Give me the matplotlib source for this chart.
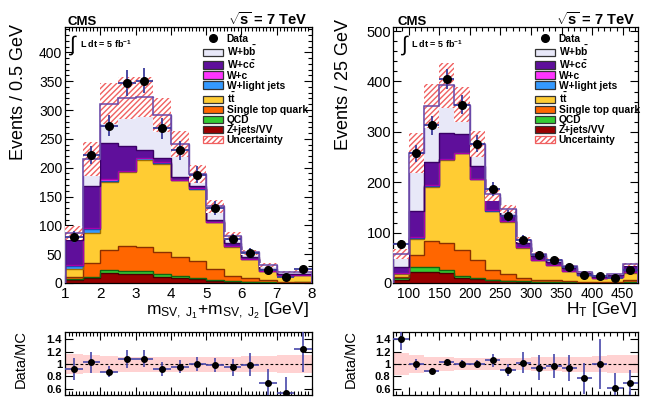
import numpy as np
import matplotlib
matplotlib.use('Agg')
import matplotlib.pyplot as plt
from matplotlib.ticker import MultipleLocator, FixedLocator, NullFormatter
from matplotlib.patches import Patch
from matplotlib.lines import Line2D

plt.rcParams['font.family'] = ['Liberation Sans', 'DejaVu Sans']
plt.rcParams['mathtext.fontset'] = 'custom'
plt.rcParams['mathtext.rm'] = 'Liberation Sans'
plt.rcParams['mathtext.it'] = 'Liberation Sans:italic'
plt.rcParams['mathtext.bf'] = 'Liberation Sans:bold'
plt.rcParams['mathtext.default'] = 'regular'
plt.rcParams['hatch.linewidth'] = 1.0

# ---------------- data: left panel (m_SV,J1 + m_SV,J2) ----------------
mass_edges = np.arange(1.0, 8.01, 0.5)
mass_zvv   = [5, 9, 17, 15, 15, 11, 9, 7, 4, 2, 1.5, 0.5, 0.3, 0.5]
mass_qcd   = [2, 2, 5, 6, 6, 5, 3, 2, 2, 1, 0.5, 0.5, 0.2, 0.5]
mass_stop  = [3, 24, 36, 43, 41, 37, 33, 30, 19, 9, 6, 4, 1.5, 1.5]
mass_tt    = [14, 52, 118, 129, 151, 154, 133, 124, 80, 51, 33, 16, 11, 11.5]
mass_wl    = [6, 7, 1, 1, 3, 1, 0.5, 0.5, 1, 0.5, 0.3, 0.3, 0.2, 0.2]
mass_wc    = [1, 1, 3, 1, 1, 1, 0.5, 0.5, 0.5, 0.5, 0.3, 0.3, 0.2, 0.2]
mass_wcc   = [43, 73, 62, 42, 14, 7, 5, 4, 2.5, 5, 3.4, 3.4, 2.6, 1.6]
mass_wbb   = [12, 47, 69, 84, 92, 75, 57, 21, 24, 12, 8, 6, 2.5, 3.5]
mass_unc   = [12, 30, 36, 36, 35, 29, 22, 16, 11, 7, 5, 3, 2, 2.5]
mass_data  = [80, 222, 273, 347, 351, 268, 230, 188, 130, 76, 52.5, 22.5, 10, 24]
mass_derr  = [10, 16, 18, 22, 22, 18, 16, 15, 12, 9, 8, 6, 4, 6]
mass_ratio = [0.92, 1.03, 0.88, 1.08, 1.09, 0.92, 0.96, 1.0, 0.98, 0.95, 0.99, 0.70, 0.54, 1.25]
mass_rerr  = [0.18, 0.17, 0.09, 0.145, 0.135, 0.11, 0.11, 0.11, 0.115, 0.14, 0.19, 0.22, 0.25, 0.38]
mass_rband = [0.16, 0.15, 0.13, 0.12, 0.12, 0.12, 0.12, 0.12, 0.12, 0.12, 0.13, 0.13, 0.14, 0.15]

# ---------------- data: right panel (H_T) ----------------
ht_edges = np.arange(75, 476, 25)
ht_zvv   = [6, 21, 22, 19, 10, 8, 5, 3, 2, 1.5, 1, 0.7, 0.5, 0.4, 0.3, 1]
ht_qcd   = [4, 11, 9, 7, 4, 2, 1, 1, 1, 0.5, 0.5, 0.3, 0.3, 0.2, 0.2, 1]
ht_stop  = [2, 23, 53, 54, 51, 35, 19, 13, 7, 4, 3.5, 2.5, 1.7, 1.4, 1, 3]
ht_tt    = [5, 32, 107, 164, 192, 161, 118, 105, 60, 39, 31, 20.5, 12.5, 7, 9.5, 14]
ht_wl    = [3, 3, 2, 1.5, 1, 0.5, 0.5, 0.5, 0.5, 0.3, 0.3, 0.2, 0.2, 0.2, 0.2, 2]
ht_wc    = [0.5, 1, 1, 0.5, 0.5, 0.5, 0.5, 0.5, 0.5, 0.3, 0.3, 0.2, 0.2, 0.2, 0.2, 0.3]
ht_wcc   = [10.5, 51, 47, 51, 36.5, 25, 26, 11, 9, 8.4, 4.4, 5.6, 3.6, 2.6, 3.6, 12.7]
ht_wbb   = [26, 116, 110, 95, 59, 44, 6, 13, 6, 4, 5, 4, 2.5, 2, 2, 3]
ht_unc   = [10, 40, 43, 45, 35, 25, 13, 8, 5, 3.5, 3, 2.5, 2, 1.5, 1.5, 3]
ht_data  = [77, 257, 313, 404, 354, 276, 187, 133, 86, 55, 45, 32, 16.6, 14, 10.6, 26.6]
ht_derr  = [9, 17, 19, 20, 19, 17, 14, 12, 10, 8, 7, 6, 4, 4, 3, 5]
ht_ratio = [1.40, 1.00, 0.89, 1.03, 1.0, 1.0, 1.06, 0.90, 1.02, 0.94, 0.97, 0.93, 0.77, 1.0, 0.61, 0.69]
ht_rerr  = [0.17, 0.09, 0.05, 0.05, 0.065, 0.07, 0.1, 0.1, 0.17, 0.2, 0.19, 0.21, 0.25, 0.4, 0.25, 0.22]
ht_rband = [0.18, 0.15, 0.12, 0.11, 0.10, 0.10, 0.10, 0.10, 0.10, 0.11, 0.11, 0.12, 0.12, 0.13, 0.14, 0.15]

# ---------------- styles ----------------
labels = ['Z+jets/VV', 'QCD', 'Single top quark', r't$\bar{\mathbf{t}}$', 'W+light jets',
          'W+c', r'W+c$\bar{\mathbf{c}}$', r'W+b$\bar{\mathbf{b}}$']
fills = ['#990000', '#33CC33', '#FF6600', '#FFCC33', '#3399FF', '#FF33FF', '#5F0F9B', '#E8E8F8']
edges_c = ['#4A0000', '#116611', '#8A3000', '#A07000', '#1050B0', '#AA00AA', '#3A0066', '#6A48A8']
hatch_col = '#F06060'
err_col = '#3C3C9C'

W, H = 649, 397
fig = plt.figure(figsize=(W / 100, H / 100), dpi=100)


def rect(x0, x1, ytop, ybot):
    return [x0 / W, 1 - ybot / H, (x1 - x0) / W, (ybot - ytop) / H]


def px(x, y):
    return x / W, 1 - y / H


def style_axis(ax):
    for s in ax.spines.values():
        s.set_linewidth(0.9)
    ax.tick_params(which='both', direction='in', top=True, right=True, width=0.8)
    ax.tick_params(which='major', length=6)
    ax.tick_params(which='minor', length=3)


def draw_main(ax, edges, comps, unc, data, derr):
    edges = np.asarray(edges, dtype=float)
    bottom = np.zeros(len(edges) - 1)
    for vals, fc, ec in zip(comps, fills, edges_c):
        top = bottom + np.asarray(vals, dtype=float)
        ax.stairs(top, edges, baseline=bottom, fill=True, facecolor=fc, linewidth=0, zorder=2)
        ax.stairs(top, edges, baseline=0, color=ec, linewidth=1.0, zorder=3)
        bottom = top
    total = bottom
    unc = np.asarray(unc, dtype=float)
    ax.stairs(total + unc, edges, baseline=total - unc, fill=True, facecolor='white',
              edgecolor=hatch_col, hatch='//////', linewidth=0, zorder=4)
    ax.stairs(total, edges, baseline=0, color=edges_c[-1], linewidth=1.1, zorder=5)
    centers = 0.5 * (edges[:-1] + edges[1:])
    half = 0.5 * np.diff(edges)
    ax.errorbar(centers, data, yerr=derr, xerr=half, fmt='o', color='black', ms=5.5,
                ecolor=err_col, elinewidth=1.3, capsize=0, zorder=10)


def draw_ratio(ax, edges, ratio, rerr, band):
    edges = np.asarray(edges, dtype=float)
    band = np.asarray(band, dtype=float)
    ax.stairs(1 + band, edges, baseline=1 - band, fill=True, facecolor='#FFD2D2',
              linewidth=0, zorder=1)
    ax.axhline(1.0, color='black', linestyle=(0, (2.5, 2)), linewidth=0.8, zorder=2)
    centers = 0.5 * (edges[:-1] + edges[1:])
    half = 0.5 * np.diff(edges)
    ax.errorbar(centers, ratio, yerr=rerr, xerr=half, fmt='o', color='black', ms=4,
                ecolor='#4848AA', elinewidth=1.2, capsize=0, zorder=10)
    ax.set_ylim(0.5, 1.52)
    ax.set_xlim(edges[0], edges[-1])
    ax.yaxis.set_major_locator(FixedLocator([0.6, 0.8, 1.0, 1.2, 1.4]))
    ax.set_yticklabels(['0.6', '0.8', '1', '1.2', '1.4'], fontweight='bold', fontsize=8)
    ax.xaxis.set_major_formatter(NullFormatter())
    style_axis(ax)
    ax.tick_params(axis='y', pad=2)


def legend(ax, anchor):
    handles = [Line2D([], [], marker='o', color='black', linestyle='none', markersize=5.5)]
    names = ['Data']
    for i in range(len(labels) - 1, -1, -1):
        handles.append(Patch(facecolor=fills[i], edgecolor='#333333', linewidth=0.9))
        names.append(labels[i])
    handles.append(Patch(facecolor='white', edgecolor=hatch_col, hatch='//////', linewidth=0.9))
    names.append('Uncertainty')
    ax.legend(handles, names, loc='upper left', bbox_to_anchor=anchor, frameon=False,
              prop={'weight': 'bold', 'size': 7.4}, borderpad=0, borderaxespad=0,
              handlelength=1.9, handleheight=0.72, handletextpad=0.4, labelspacing=0.0)


# ---------------- left main ----------------
axL = fig.add_axes(rect(65, 312, 27, 283))
draw_main(axL, mass_edges,
          [mass_zvv, mass_qcd, mass_stop, mass_tt, mass_wl, mass_wc, mass_wcc, mass_wbb],
          mass_unc, mass_data, mass_derr)
axL.set_xlim(1, 8)
axL.set_ylim(0, 444)
axL.xaxis.set_major_locator(MultipleLocator(1))
axL.xaxis.set_minor_locator(MultipleLocator(0.1))
axL.yaxis.set_major_locator(MultipleLocator(50))
axL.yaxis.set_minor_locator(MultipleLocator(10))
style_axis(axL)
axL.tick_params(axis='x', labelsize=11, pad=3)
axL.tick_params(axis='y', labelsize=10, pad=2)
legend(axL, ((203 - 65) / 247, (283 - 34) / 256))

# ---------------- right main ----------------
axR = fig.add_axes(rect(393.3, 638, 27, 283))
draw_main(axR, ht_edges,
          [ht_zvv, ht_qcd, ht_stop, ht_tt, ht_wl, ht_wc, ht_wcc, ht_wbb],
          ht_unc, ht_data, ht_derr)
axR.set_xlim(75, 475)
axR.set_ylim(0, 508)
axR.xaxis.set_major_locator(FixedLocator([100, 150, 200, 250, 300, 350, 400, 450]))
axR.xaxis.set_minor_locator(MultipleLocator(10))
axR.yaxis.set_major_locator(MultipleLocator(100))
axR.yaxis.set_minor_locator(MultipleLocator(20))
style_axis(axR)
axR.tick_params(axis='x', labelsize=10, pad=3)
axR.tick_params(axis='y', labelsize=10.5, pad=1.5)
legend(axR, ((535 - 393.3) / 244.7, (283 - 34) / 256))

# ---------------- ratio panels ----------------
axLr = fig.add_axes(rect(65, 312, 332, 395))
draw_ratio(axLr, mass_edges, mass_ratio, mass_rerr, mass_rband)
axLr.xaxis.set_major_locator(MultipleLocator(1))
axLr.xaxis.set_minor_locator(MultipleLocator(0.1))

axRr = fig.add_axes(rect(393.3, 638, 332, 395))
draw_ratio(axRr, ht_edges, ht_ratio, ht_rerr, ht_rband)
axRr.xaxis.set_major_locator(FixedLocator([100, 150, 200, 250, 300, 350, 400, 450]))
axRr.xaxis.set_minor_locator(MultipleLocator(10))

# ---------------- texts ----------------
for (xc, xr) in [(67, 308), (398, 636)]:
    fig.text(*px(xc, 25), 'CMS', fontsize=9.5, fontweight='bold', ha='left', va='baseline')
    fig.text(*px(xr, 25), r'$\sqrt{\mathbf{s}}$ = 7 TeV', fontsize=10.5, fontweight='bold',
             ha='right', va='baseline')

for (xi, xt) in [(68, 80), (400, 411)]:
    fig.text(*px(xi, 45), r'$\int$', fontsize=15, ha='left', va='center')
    fig.text(*px(xt, 48), r'L dt = 5 fb$^{\mathbf{-1}}$', fontsize=6.5, fontweight='bold',
             ha='left', va='baseline')

fig.text(*px(19, 92), 'Events / 0.5 GeV', rotation=90, fontsize=13, ha='center', va='center')
fig.text(*px(344, 84), 'Events / 25 GeV', rotation=90, fontsize=13, ha='center', va='center')
fig.text(*px(21, 359), 'Data/MC', rotation=90, fontsize=10.5, ha='center', va='center')
fig.text(*px(351, 359), 'Data/MC', rotation=90, fontsize=10.5, ha='center', va='center')

fig.text(*px(309, 314), r'm$_{\mathrm{SV,\ J_1}}$+m$_{\mathrm{SV,\ J_2}}$ [GeV]', fontsize=12.5,
         ha='right', va='baseline')
fig.text(*px(637, 314), r'H$_{\mathrm{T}}$ [GeV]', fontsize=12.5, ha='right', va='baseline')

fig.savefig('out.png', dpi=100, facecolor='white')
